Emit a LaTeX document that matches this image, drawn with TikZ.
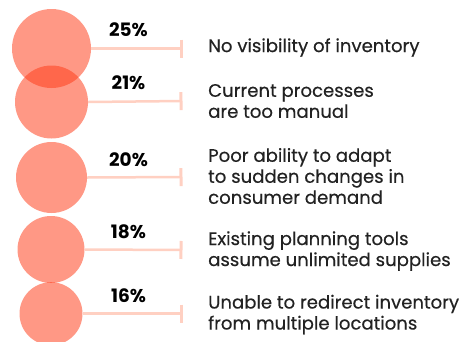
\documentclass[tikz,border=0pt]{standalone}
\usepackage{fontspec}
\setmainfont{Poppins}
\usepackage{xcolor}
\usetikzlibrary{positioning}
\usetikzlibrary{arrows.meta}
\definecolor{bubblered}{RGB}{255,58,22}
\definecolor{stemred}{RGB}{255,208,194}
\definecolor{ink}{RGB}{34,34,34}

\tikzset{
  bubble/.style={circle, fill=bubblered, fill opacity=0.52, inner sep=0pt},
  stemline/.style={draw=stemred, line width=2.5pt, -{Bar[width=18pt,line width=3pt]}},
  pct/.style={font=\bfseries\fontsize{18.5}{18.5}\selectfont, inner sep=0pt},
  reason/.style={anchor=west, align=left, text=ink, inner sep=0pt, font=\fontsize{18.1}{21}\selectfont\addfontfeature{FakeBold=0.4}}
}

\begin{document}
\begin{tikzpicture}[x=1pt, y=-1pt]
  \clip (0,0) rectangle (467,341);
  % bubbles, area ~ share
  \node [bubble, minimum size=79pt] (c1) at (51.5,48.5) {};
  \node [bubble, minimum size=73pt] (c2) at (51.5,102) {};
  \node [bubble, minimum size=71pt] (c3) at (51.5,177.5) {};
  \node [bubble, minimum size=67pt] (c4) at (51,249.5) {};
  \node [bubble, minimum size=63pt] (c5) at (51,313.7) {};
  % stem ends
  \coordinate (e1) at (182.5,48.5);
  \coordinate (e2) at (182.5,101);
  \coordinate (e3) at (182.5,177);
  \coordinate (e4) at (182.5,250);
  \coordinate (e5) at (182.5,313.7);
  \draw [stemline] (c1.east) -- (e1);
  \draw [stemline] (c2.east) -- (e2);
  \draw [stemline] (c3.east) -- (e3);
  \draw [stemline] (c4.east) -- (e4);
  \draw [stemline] (c5.east) -- (e5);
  % shares
  \node [pct] (p1) at (128.5,29.5) {25\%};
  \node [pct] (p2) at (128.5,83) {21\%};
  \node [pct] (p3) at (128.5,159.5) {20\%};
  \node [pct] (p4) at (128.5,231.5) {18\%};
  \node [pct] (p5) at (128.5,295.5) {16\%};
  % reasons
  \node [reason] (r1) at (208,47.5) {No visibility of inventory};
  \node [reason] (r2) at (208,101) {Current processes\\are too manual};
  \node [reason] (r3) at (208,176) {Poor ability to adapt\\to sudden changes in\\consumer demand};
  \node [reason] (r4) at (208,251) {Existing planning tools\\assume unlimited supplies};
  \node [reason] (r5) at (208,314.5) {Unable to redirect inventory\\from multiple locations};
\end{tikzpicture}
\end{document}
